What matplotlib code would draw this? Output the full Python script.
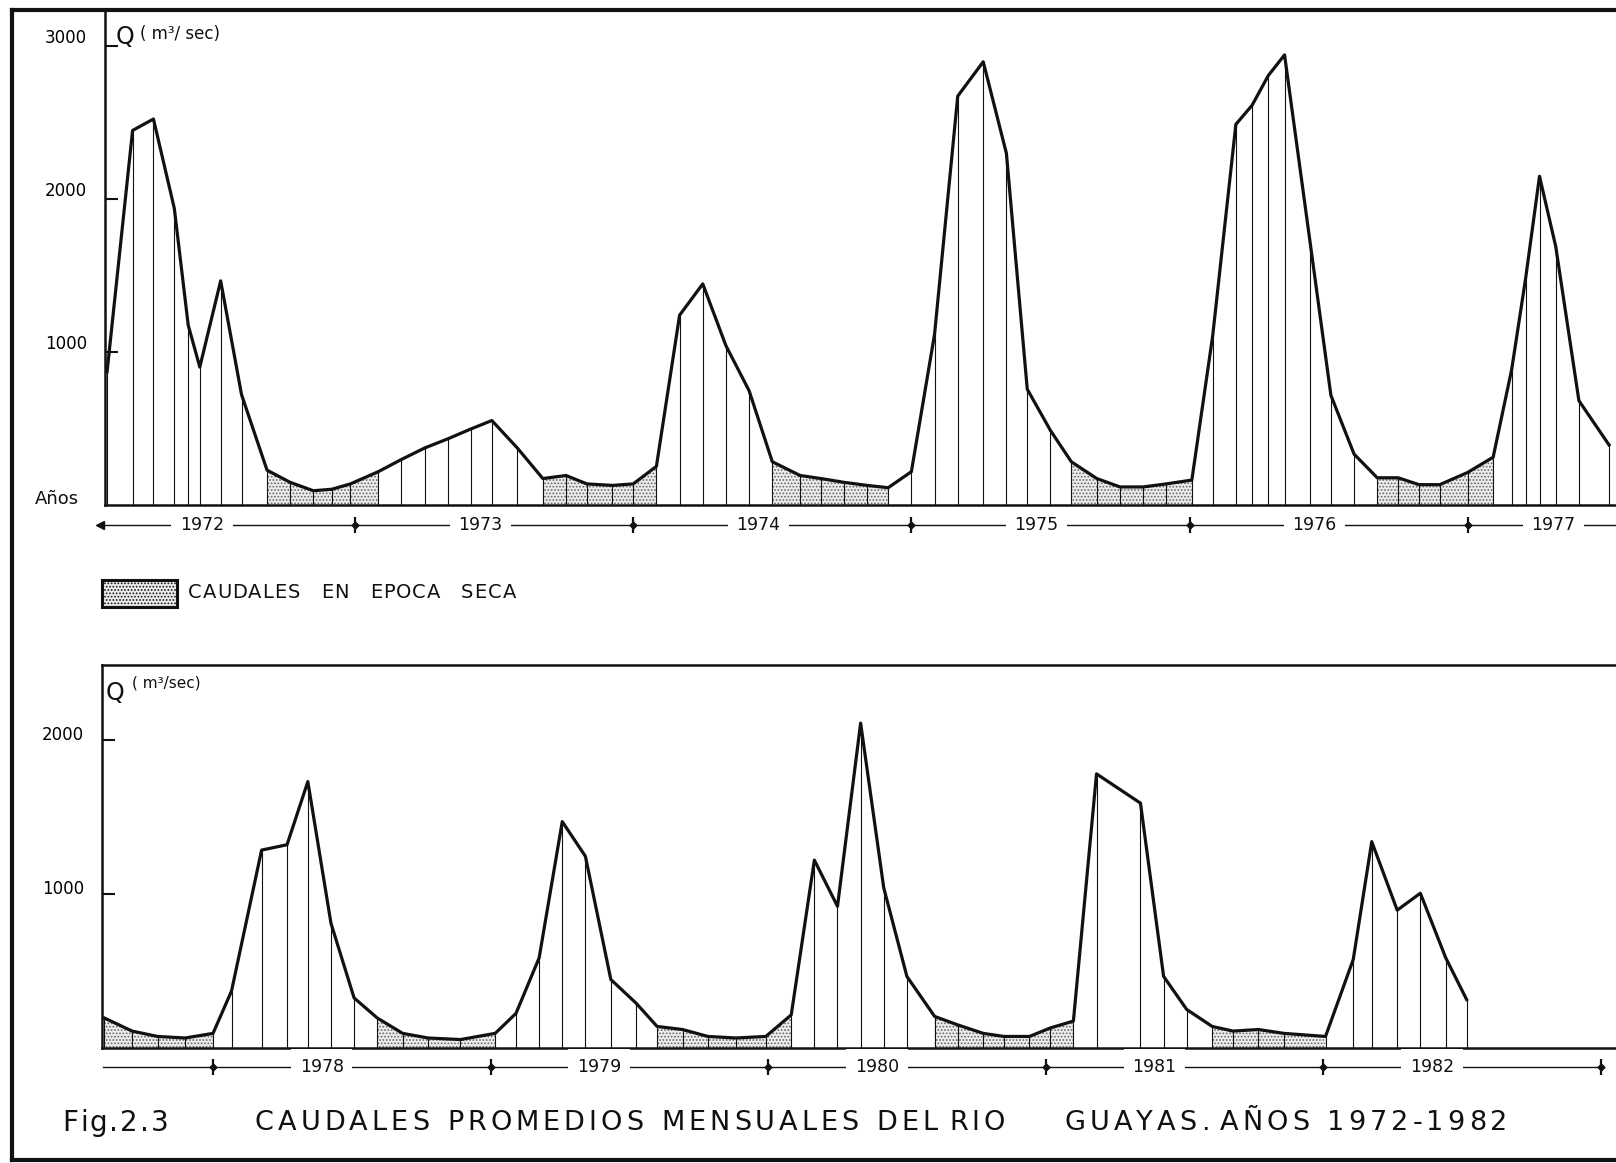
import numpy as np
import matplotlib.pyplot as plt
import matplotlib.transforms as mtransforms
from matplotlib.lines import Line2D
from matplotlib.patches import Rectangle

# caudales promedios mensuales del rio Guayas (m3/s)
# mes = meses contados desde el 1 de enero de 1972 (panel de arriba)
#       o desde el 1 de enero de 1978 (panel de abajo)
top_mes = [1.3, 2.4, 3.3, 4.2, 4.8, 5.3, 6.2, 7.1, 8.2, 9.2, 10.2, 11.0, 11.8,
           13.0, 14.0, 15.0, 16.0, 17.0, 17.9, 19.0, 20.1, 21.1, 22.0, 23.1,
           24.0, 25.0, 26.0, 27.0, 28.0, 29.0, 30.0, 31.2, 32.1, 33.1, 34.1,
           35.0, 36.0, 37.0, 38.0, 39.1, 40.1, 41.0, 42.0, 42.9, 44.0, 45.0,
           46.0, 47.0, 48.1, 49.0, 50.0, 50.7, 51.4, 52.1, 53.2, 54.1, 55.1,
           56.1, 57.0, 57.9, 58.8, 60.0, 61.1, 61.9, 62.5, 63.1, 63.8, 64.8, 66.1]
top_q = [870, 2450, 2525, 1940, 1175, 900, 1465, 720, 225, 145, 90, 100, 135,
         215, 295, 370, 430, 495, 550, 370, 170, 190, 135, 125,
         135, 250, 1240, 1445, 1040, 745, 280, 190, 170, 145, 125,
         110, 215, 1115, 2675, 2900, 2300, 755, 485, 280, 170, 115,
         115, 135, 160, 1105, 2490, 2615, 2810, 2945, 1720, 715, 330,
         175, 175, 130, 130, 210, 310, 885, 1480, 2150, 1690, 680, 390]
top_secas = [(8.2, 13.0), (20.1, 25.0), (30.0, 35.0), (42.9, 48.1), (56.1, 61.1)]
top_anios = ['1972', '1973', '1974', '1975', '1976', '1977']

bot_mes = [-4.7, -3.5, -2.4, -1.2, 0.0, 0.8, 2.1, 3.2, 4.1, 5.1, 6.1, 7.1, 8.2,
           9.3, 10.7, 12.2, 13.1, 14.1, 15.1, 16.1, 17.2, 18.3, 19.2, 20.3,
           21.4, 22.6, 23.9, 25.0, 26.0, 27.0, 28.0, 29.0, 30.0, 31.2, 32.2,
           33.3, 34.2, 35.3, 36.2, 37.2, 38.2, 40.1, 41.1, 42.1, 43.2, 44.1,
           45.2, 46.3, 48.1, 49.3, 50.1, 51.2, 52.2, 53.3, 54.2]
bot_q = [195, 110, 75, 65, 95, 370, 1285, 1320, 1730, 810, 325, 195, 95,
         65, 55, 95, 225, 585, 1470, 1245, 445, 290, 140, 120,
         75, 65, 75, 215, 1220, 920, 2110, 1040, 465, 205, 150,
         95, 75, 75, 130, 175, 1780, 1590, 465, 250, 140, 110,
         120, 95, 75, 575, 1340, 895, 1005, 585, 315]
bot_secas = [(-4.7, 0.0), (7.1, 12.2), (19.2, 25.0), (31.2, 37.2), (43.2, 48.1)]
bot_anios = ['1978', '1979', '1980', '1981', '1982']

W, H = 1616, 1163
TINTA = '#111111'
plt.rcParams['font.family'] = 'DejaVu Sans'
plt.rcParams['hatch.color'] = '#666666'
plt.rcParams['hatch.linewidth'] = 0.8

fig = plt.figure(figsize=(W / 100, H / 100), dpi=100)


def caja(x0, y0, x1, y1):
    return [x0 / W, 1 - y1 / H, (x1 - x0) / W, (y1 - y0) / H]


def rotulo(x, y, s, track, esp, **kw):
    # texto con espaciado entre letras, como el rotulado a mano
    r = fig.canvas.get_renderer()
    for c in s:
        if c == ' ':
            x += esp
            continue
        t = fig.text(x / W, 1 - y / H, c, va='center', ha='left', **kw)
        x += t.get_window_extent(r).width + track


def panel(ax, mes, q, secas, anios, xlim, ylim, yticks, dy, ly, x_ini, x_fin,
          ticks_anio, flecha, corr):
    mes = np.array(mes)
    q = np.array(q)
    for a, b in secas:
        m = (mes >= a - 0.05) & (mes <= b + 0.05)
        ax.fill_between(mes, 0, q, where=m, facecolor='#ececec', hatch='.....',
                        edgecolor='#666666', linewidth=0)
    ax.vlines(mes, 0, q, color=TINTA, lw=0.8)
    ax.plot(mes, q, color=TINTA, lw=2.3)
    ax.set_xlim(*xlim)
    ax.set_ylim(*ylim)
    ax.set_xticks([])
    ax.set_yticks(yticks)
    ax.tick_params(axis='y', direction='in', length=9, width=1.5, pad=13,
                   labelsize=12, color=TINTA)
    off = mtransforms.ScaledTranslation(0, dy / 100, fig.dpi_scale_trans)
    for lab in ax.get_yticklabels():
        lab.set_transform(lab.get_transform() + off)
    ax.spines['right'].set_visible(False)
    for s in ('left', 'bottom', 'top'):
        ax.spines[s].set_linewidth(1.8)
        ax.spines[s].set_color(TINTA)

    # linea de los anios
    tr = ax.get_xaxis_transform()
    ax.plot([x_ini, x_fin], [ly, ly], transform=tr, clip_on=False, color=TINTA, lw=1.0)
    ax.plot(ticks_anio, [ly] * len(ticks_anio), transform=tr, clip_on=False, ls='none',
            marker='|', ms=12, mew=1.6, color=TINTA)
    ax.plot(ticks_anio, [ly] * len(ticks_anio), transform=tr, clip_on=False, ls='none',
            marker='D', ms=3.5, color=TINTA)
    if flecha:
        ax.plot([x_ini], [ly], transform=tr, clip_on=False, marker='<', ms=6, color=TINTA)
    for k, anio in enumerate(anios):
        ini = 12 * k
        fin = 12 * k + 12
        pos = ini + corr if fin <= xlim[1] else (ini + xlim[1]) / 2 + 0.5
        ax.text(pos, ly, anio, transform=tr, ha='center', va='center', fontsize=12.5,
                color=TINTA, clip_on=False,
                bbox=dict(boxstyle='square,pad=0.5', fc='white', ec='none'))


ax1 = fig.add_axes(caja(105, 10, W, 504.5))
ax2 = fig.add_axes(caja(102, 665, W, 1048))

panel(ax1, top_mes, top_q, top_secas, top_anios, (1.21, 66.4), (0, 3239),
      [1000, 2000, 3000], 10, -20.5 / 494.5, 1.0, 66.4, [12, 24, 36, 48, 60], True, 5.4)
ax1.spines['top'].set_visible(False)

panel(ax2, bot_mes, bot_q, bot_secas, bot_anios, (-4.8, 60.66), (0, 2487),
      [1000, 2000], 7, -19 / 383, -4.75, 60, [0, 12, 24, 36, 48, 60], False, 4.7)

# rotulos de los ejes
fig.text(116 / W, 1 - 37 / H, 'Q', fontsize=17, ha='left', va='center', color=TINTA)
fig.text(140 / W, 1 - 34 / H, '( m³/ sec)', fontsize=12, ha='left', va='center', color=TINTA)
fig.text(57 / W, 1 - 499 / H, 'Años', fontsize=13, ha='center', va='center', color=TINTA)
fig.text(106 / W, 1 - 693 / H, 'Q', fontsize=17, ha='left', va='center', color=TINTA)
fig.text(132 / W, 1 - 683 / H, '( m³/sec)', fontsize=11, ha='left', va='center', color=TINTA)

# leyenda
fig.add_artist(Rectangle((102 / W, 1 - 607 / H), 75 / W, 27 / H, transform=fig.transFigure,
                         facecolor='#ececec', hatch='.....', edgecolor=TINTA, lw=2.2))
rotulo(188, 592, 'CAUDALES  EN  EPOCA  SECA', 1, 10, fontsize=14, color=TINTA)

# titulo
rotulo(62, 1123, 'Fig.2.3', 2, 10, fontsize=20, color=TINTA)
rotulo(255, 1123, 'CAUDALES  PROMEDIOS  MENSUALES  DEL RIO        GUAYAS. AÑOS  1972-1982',
       4, 7, fontsize=19.5, color=TINTA)

# marco de la lamina
for xs, ys in [([12 / W, 12 / W], [1 - 10 / H, 1 - 1160 / H]),
               ([12 / W, 1], [1 - 10 / H, 1 - 10 / H]),
               ([12 / W, 1], [1 - 1160 / H, 1 - 1160 / H])]:
    fig.add_artist(Line2D(xs, ys, lw=3, color=TINTA))

fig.savefig('out.png', dpi=100, facecolor='white')
